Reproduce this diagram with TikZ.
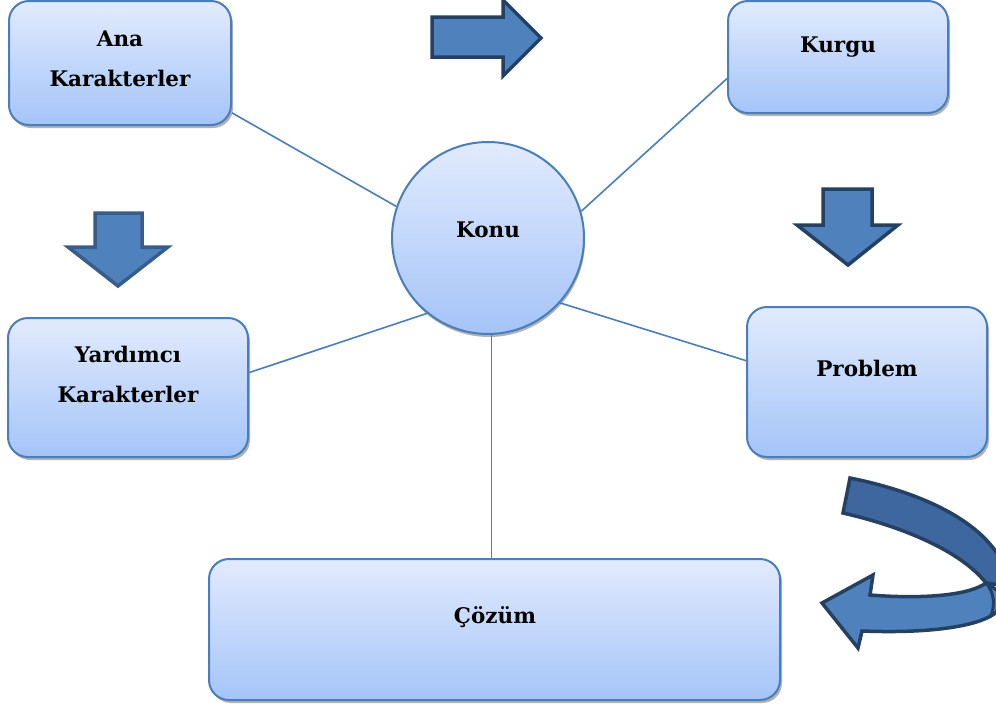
\documentclass[tikz,border=0pt]{standalone}
\usepackage{fontspec}
\setmainfont{DejaVu Serif}
\usetikzlibrary{shadows}

\definecolor{boxtop}{RGB}{226,235,253}
\definecolor{boxbot}{RGB}{164,196,248}
\definecolor{boxline}{RGB}{74,126,187}
\definecolor{arrowfill}{RGB}{79,129,189}
\definecolor{arrowline}{RGB}{36,64,98}
\definecolor{arrowlinelt}{RGB}{56,93,138}
\definecolor{bandfill}{RGB}{61,103,158}

\begin{document}
\begin{tikzpicture}[x=1pt,y=-1pt,
	box/.style={draw=boxline,line width=2pt,rounded corners=20pt,top color=boxtop,bottom color=boxbot,
		drop shadow={shadow xshift=2pt,shadow yshift=-3pt,fill=black!55,opacity=.55}},
	topic/.style={circle,draw=boxline,line width=2pt,top color=boxtop,bottom color=boxbot,minimum size=192pt,
		drop shadow={shadow xshift=1pt,shadow yshift=-3pt,fill=black!55,opacity=.55}},
	txt/.style={font=\bfseries\fontsize{21.5}{40}\selectfont,align=center,inner sep=0pt},
	link/.style={draw=boxline,line width=1.6pt},
	blockarrow/.style={fill=arrowfill,draw=arrowline,line width=3.5pt}]
	\useasboundingbox (0,0) rectangle (996,715);

	%boxes
	\node[box,minimum width=222pt,minimum height=124pt] (ana)      at (120,63)    {};
	\node[box,minimum width=220pt,minimum height=112pt] (kurgu)    at (838,57)    {};
	\node[box,minimum width=240pt,minimum height=139pt] (yardimci) at (128,387.5) {};
	\node[box,minimum width=240pt,minimum height=150pt] (problem)  at (867,382)   {};
	\node[box,minimum width=571pt,minimum height=141pt] (cozum)    at (494.5,629.5) {};
	\node[topic] (konu) at (488,238) {};

	%links to the topic
	\draw[link] (ana.-24)      -- (konu.161);
	\draw[link] (kurgu.191)    -- (konu.16);
	\draw[link] (yardimci.7)   -- (konu.-129);
	\draw[link] (problem.170)  -- (konu.-42);
	\draw[link] (konu.-88)     -- (konu.-88 |- cozum.north);

	%labels
	\node[txt] (ana-t)                  at (120,58.5)  {Ana\\Karakterler};
	\node[txt,anchor=base] (kurgu-t)    at (838,52)    {Kurgu};
	\node[txt] (yardimci-t)             at (128,374.5) {Yardımcı\\Karakterler};
	\node[txt,anchor=base] (problem-t)  at (867,376)   {Problem};
	\node[txt,anchor=base] (cozum-t)    at (495,623)   {Çözüm};
	\node[txt,anchor=base] (konu-t)     at (488,237)   {Konu};

	%block arrows
	\draw[blockarrow] (432,17)--(503,17)--(503,0)--(541,38)--(503,76)--(503,57)--(432,57)--cycle;			%right
	\draw[blockarrow,draw=arrowlinelt] (95,213)--(142,213)--(142,247)--(168,247)--(118,286)--(68,247)--(95,247)--cycle;	%down, left
	\draw[blockarrow] (823,189)--(872,189)--(872,225)--(898,225)--(848,265)--(797,225)--(823,225)--cycle;	%down, right

	%curved arrow
	\draw[blockarrow,fill=bandfill] (850,478) .. controls (910,490) and (975,515) .. (1000,558)
		-- (1000,585) -- (986,583) .. controls (960,550) and (900,526) .. (843,513) -- cycle;		%back band
	\draw[blockarrow] (870,595) .. controls (920,599) and (968,596) .. (986,583)
		-- (1000,592) -- (1000,608)
		.. controls (990,624) and (940,634) .. (862,631)
		-- (858,648) -- (822,603) -- (873,575) -- cycle;		%front band with head
	\draw[draw=arrowline,line width=3pt] (986,583) .. controls (994,592) and (996,606) .. (990,617);	%fold
\end{tikzpicture}
\end{document}
